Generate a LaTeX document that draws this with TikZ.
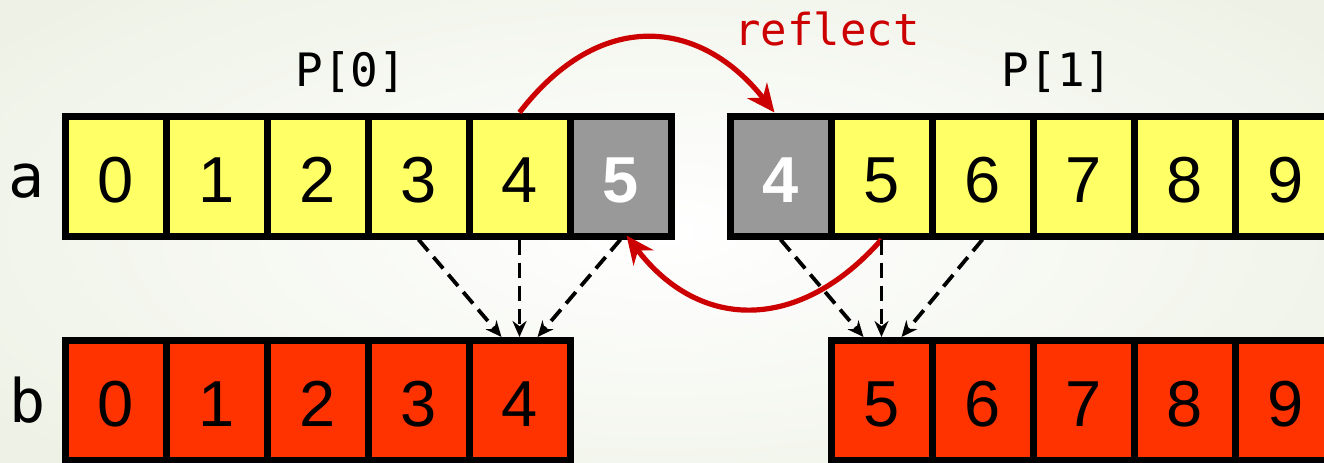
\documentclass[tikz,border=0pt]{standalone}
\usepackage{fontspec}
\setmainfont{Liberation Sans}
\newfontfamily\monofont{DejaVu Sans Mono}
\usetikzlibrary{arrows.meta}
\definecolor{cellyellow}{HTML}{FFFF66}
\definecolor{cellgray}{HTML}{999999}
\definecolor{cellred}{HTML}{FF3300}
\definecolor{arrowred}{HTML}{CC0000}
\definecolor{bgouter}{RGB}{238,242,230}
\tikzset{
  cell/.style={draw=black, line width=3.5pt, minimum width=50.5pt, minimum height=60pt,
    inner sep=0pt, text height=26pt, text depth=0pt, font=\fontsize{32.5}{32.5}\selectfont},
  ycell/.style={cell, fill=cellyellow},
  gcell/.style={cell, fill=cellgray, text=white, font=\fontsize{32.5}{32.5}\selectfont\bfseries},
  rcell/.style={cell, fill=cellred},
  feed/.style={line width=1.9pt, dash pattern=on 7.5pt off 4pt, -{Stealth[length=8pt,width=7pt]}},
  reflectarrow/.style={draw=arrowred, line width=2.6pt, -{Stealth[length=14pt,width=12.5pt]}},
  rowlabel/.style={font=\monofont\fontsize{30}{30}\selectfont, inner sep=0pt, anchor=base},
  partlabel/.style={font=\monofont\fontsize{23}{23}\selectfont, inner sep=0pt, anchor=base},
}
\begin{document}
\begin{tikzpicture}[x=0.5pt, y=-0.5pt]
  \useasboundingbox (0,0) rectangle (1324,462);
  \clip (0,0) rectangle (1324,462);
  \shade[inner color=white, outer color=bgouter] (-150,-100) rectangle (1474,562);

  % row a, part 0
  \foreach \i in {0,...,4} \node[ycell] (a\i) at ({115.5+101*\i},176) {\i};
  \node[gcell] (a5) at ({115.5+101*5},176) {5};
  % row a, part 1
  \node[gcell] (c4) at (780.5,176) {4};
  \foreach \i in {5,...,9} \node[ycell] (c\i) at ({780.5+101*(\i-4)},176) {\i};
  % row b
  \foreach \i in {0,...,4} \node[rcell] (b\i) at ({115.5+101*\i},400.5) {\i};
  \foreach \i in {5,...,9} \node[rcell] (b\i) at ({881.5+101*(\i-5)},400.5) {\i};

  % labels
  \node[rowlabel] (la) at (27,197) {a};
  \node[rowlabel] (lb) at (27.5,422) {b};
  \node[partlabel] (p0) at (351,86) {P[0]};
  \node[partlabel] (p1) at (1057,86) {P[1]};
  \node[partlabel, font=\monofont\fontsize{22}{22}\selectfont, text=arrowred] (refl) at (827,45) {reflect};

  % reflect arrows
  \draw[reflectarrow] (a4.north) .. controls (600,8) and (700,18) .. ([xshift=-3pt]c4.north);
  \draw[reflectarrow] (c5.south) .. controls (800,332) and (700,332) .. ([xshift=3pt,yshift=2pt]a5.south);

  % copy arrows
  \draw[feed] (a3.south) -- ([xshift=-9pt]b4.north);
  \draw[feed] (a4.south) -- (b4.north);
  \draw[feed] (a5.south) -- ([xshift=9pt]b4.north);
  \draw[feed] (c4.south) -- ([xshift=-9pt]b5.north);
  \draw[feed] (c5.south) -- (b5.north);
  \draw[feed] (c6.south) -- ([xshift=10pt]b5.north);
\end{tikzpicture}
\end{document}
